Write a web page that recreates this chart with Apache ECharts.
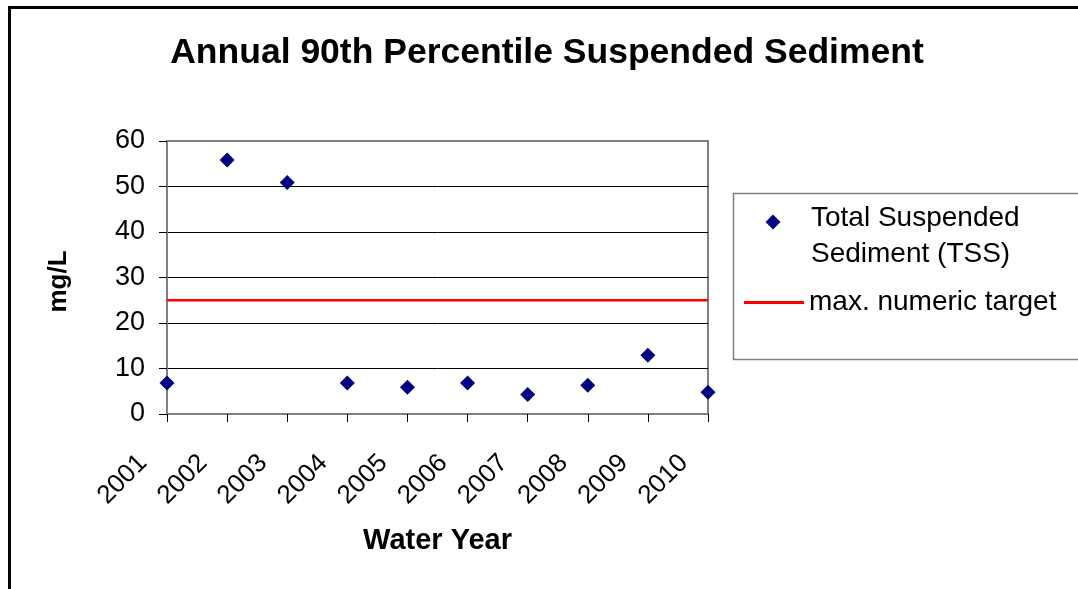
<!DOCTYPE html>
<html>
<head>
<meta charset="utf-8">
<style>
html,body{margin:0;padding:0;background:#fff;}
#chart{width:1078px;height:589px;}
</style>
<script src="https://cdn.jsdelivr.net/npm/echarts@6/dist/echarts.min.js"></script>
</head>
<body>
<div id="chart"></div>
<script>
const years = ['2001','2002','2003','2004','2005','2006','2007','2008','2009','2010'];
const tssValues = [6.8, 55.8, 50.9, 6.8, 5.9, 6.8, 4.3, 6.3, 12.9, 4.8];
const targetValue = 25;
const targetValues = years.map(() => targetValue);
const yTicks = [0, 10, 20, 30, 40, 50, 60];

const FONT = '"Liberation Sans", Arial, sans-serif';
const chart = echarts.init(document.getElementById('chart'), null, {renderer: 'canvas'});

chart.setOption({
  animation: false,
  backgroundColor: '#ffffff',
  title: {
    text: 'Annual 90th Percentile Suspended Sediment',
    left: 547,
    textAlign: 'center',
    top: 35,
    padding: 0,
    textStyle: {fontFamily: FONT, fontSize: 35.5, fontWeight: 'bold', color: '#000'}
  },
  graphic: [
    {type: 'rect', z: -10, shape: {x: 9.5, y: 7.5, width: 1200, height: 700},
     style: {fill: 'none', stroke: '#000', lineWidth: 3}},
    {type: 'rect', z: 0, shape: {x: 733.5, y: 193.5, width: 400, height: 166},
     style: {fill: '#fff', stroke: '#808080', lineWidth: 1.5}}
  ],
  legend: [
    {
      orient: 'vertical', left: 758, top: 200, padding: 0, z: 5,
      itemWidth: 48, itemHeight: 72,
      data: [{name: 'Total Suspended Sediment (TSS)',
              icon: 'path://M0,0 M48,72 M15,14.5 L22.5,22 L15,29.5 L7.5,22 Z',
              itemStyle: {color: '#000080', opacity: 1}}],
      formatter: () => 'Total Suspended\nSediment (TSS)',
      textStyle: {fontFamily: FONT, fontSize: 28, color: '#000', lineHeight: 36}
    },
    {
      orient: 'vertical', left: 744, top: 288.5, padding: 0, z: 5,
      itemWidth: 60, itemHeight: 3,
      data: [{name: 'max. numeric target', icon: 'rect'}],
      textStyle: {fontFamily: FONT, fontSize: 28, color: '#000'}
    }
  ],
  grid: {
    left: 167, right: 370, top: 141, bottom: 175,
    show: true, borderColor: '#808080', borderWidth: 2, backgroundColor: '#fff'
  },
  xAxis: {
    type: 'category',
    data: years,
    boundaryGap: false,
    name: 'Water Year',
    nameLocation: 'middle',
    nameGap: 112,
    nameMoveOverlap: false,
    nameTextStyle: {fontFamily: FONT, fontSize: 29, fontWeight: 'bold', color: '#000'},
    axisLine: {show: true, lineStyle: {color: '#808080', width: 2}},
    axisTick: {show: true, alignWithLabel: true, length: 8, lineStyle: {color: '#000', width: 1}},
    axisLabel: {
      rotate: 45, margin: 21, interval: 0,
      padding: [0, 34, 0, 0],
      fontFamily: FONT, fontSize: 26, color: '#000'
    },
    splitLine: {show: false}
  },
  yAxis: {
    type: 'value',
    min: yTicks[0], max: yTicks[yTicks.length - 1], interval: 10,
    name: 'mg/L',
    nameLocation: 'middle',
    nameGap: 95,
    nameRotate: 90,
    nameMoveOverlap: false,
    nameTextStyle: {fontFamily: FONT, fontSize: 26, fontWeight: 'bold', color: '#000', padding: [0, 8, 0, 0]},
    axisLine: {show: true, lineStyle: {color: '#808080', width: 2}},
    axisTick: {show: true, length: 8, lineStyle: {color: '#000', width: 1}},
    axisLabel: {margin: 22, fontFamily: FONT, fontSize: 27, color: '#000'},
    splitLine: {show: true, showMinLine: false, showMaxLine: false, lineStyle: {color: '#000', width: 1}}
  },
  series: [
    {
      name: 'max. numeric target',
      type: 'line',
      data: targetValues,
      symbol: 'none',
      lineStyle: {color: '#ff0000', width: 2.5},
      itemStyle: {color: '#ff0000'},
      z: 2
    },
    {
      name: 'Total Suspended Sediment (TSS)',
      type: 'scatter',
      data: tssValues,
      symbol: 'diamond',
      symbolSize: 15,
      itemStyle: {color: '#000080', opacity: 1},
      z: 3
    }
  ]
});
</script>
</body>
</html>
